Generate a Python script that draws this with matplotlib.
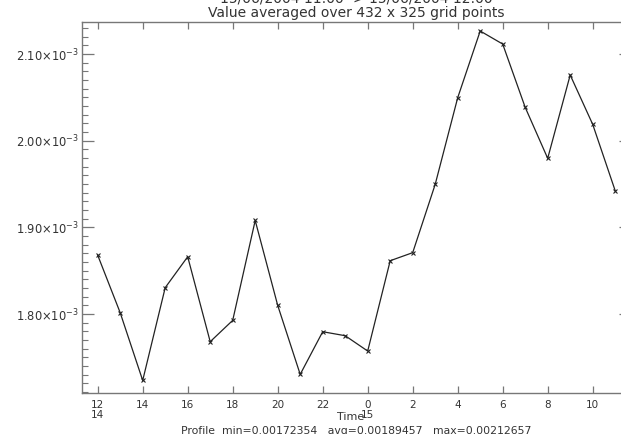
import numpy as np
import matplotlib
matplotlib.use('Agg')
import matplotlib.pyplot as plt
from matplotlib.ticker import FixedLocator, MultipleLocator

# =================== DADOS ===================
horas = [12, 13, 14, 15, 16, 17, 18, 19, 20, 21, 22, 23,
         0, 1, 2, 3, 4, 5, 6, 7, 8, 9, 10, 11]
valores = [1.868e-3, 1.8016e-3, 1.7235e-3, 1.8305e-3, 1.8662e-3, 1.7682e-3,
           1.7928e-3, 1.908e-3, 1.8101e-3, 1.7305e-3, 1.7797e-3, 1.7751e-3,
           1.7574e-3, 1.8616e-3, 1.8709e-3, 1.9497e-3, 2.0496e-3, 2.12657e-3,
           2.1115e-3, 2.0385e-3, 1.9797e-3, 2.0758e-3, 2.0189e-3, 1.9423e-3]
rotulos_x = ['12\n14', '14', '16', '18', '20', '22', '0\n15', '2', '4', '6', '8', '10']
ticks_y = [1.80e-3, 1.90e-3, 2.00e-3, 2.10e-3]
rotulos_y = [r'1.80$\times$10$^{-3}$', r'1.90$\times$10$^{-3}$',
             r'2.00$\times$10$^{-3}$', r'2.10$\times$10$^{-3}$']

titulo1 = '15/06/2004 11:00 -> 15/06/2004 12:00'
titulo2 = 'Value averaged over 432 x 325 grid points'
rodape = 'Profile  min=0.00172354   avg=0.00189457   max=0.00212657'

COR_EIXO = '#777777'
COR_TEXTO = '#333333'

# =================== FIGURA ===================
W, H = 621, 434
fig = plt.figure(figsize=(W / 100, H / 100), dpi=100)
x0, x1, y0, y1 = 81.7, 631.2, 21.7, 392.5
ax = fig.add_axes([x0 / W, 1 - y1 / H, (x1 - x0) / W, (y1 - y0) / H])

x = list(range(len(horas)))
ax.plot(x, valores, color='#222222', lw=0.9, marker='x', ms=3, mew=0.8)

ax.set_xlim(-0.711, len(horas) - 1 + 0.711)
ax.set_ylim(1.7096e-3, 2.1373e-3)

ax.xaxis.set_major_locator(FixedLocator(x[::2]))
ax.set_xticklabels(rotulos_x)
ax.yaxis.set_major_locator(FixedLocator(ticks_y))
ax.yaxis.set_minor_locator(MultipleLocator(0.01e-3))
ax.set_yticklabels(rotulos_y)

for s in ax.spines.values():
    s.set_color(COR_EIXO)
    s.set_linewidth(1.0)

ax.tick_params(axis='x', which='major', direction='in', top=True, bottom=True,
               length=5.3, width=0.9, color=COR_EIXO, labelsize=7.5,
               labelcolor=COR_TEXTO, pad=5.5)
ax.tick_params(axis='y', which='major', direction='in', left=True, right=True,
               length=8.6, width=0.9, color=COR_EIXO, labelsize=8.3,
               labelcolor=COR_TEXTO, pad=2)
ax.tick_params(axis='y', which='minor', direction='in', left=True, right=True,
               length=4.3, width=0.8, color=COR_EIXO)
for lbl in ax.get_xticklabels():
    lbl.set_linespacing(1.0)

cx = (x0 + x1) / 2 / W
fig.text(cx, 1 - 2.3 / H, titulo1, ha='center', va='baseline', fontsize=10, color=COR_TEXTO)
fig.text(cx, 1 - 17.3 / H, titulo2, ha='center', va='baseline', fontsize=10, color=COR_TEXTO)
fig.text(351 / W, 1 - 420 / H, 'Time', ha='center', va='baseline', fontsize=8, color=COR_TEXTO)
fig.text(cx, 1 - 434.5 / H, rodape, ha='center', va='baseline', fontsize=7.8, color=COR_TEXTO)

fig.savefig('out.png', dpi=100)
